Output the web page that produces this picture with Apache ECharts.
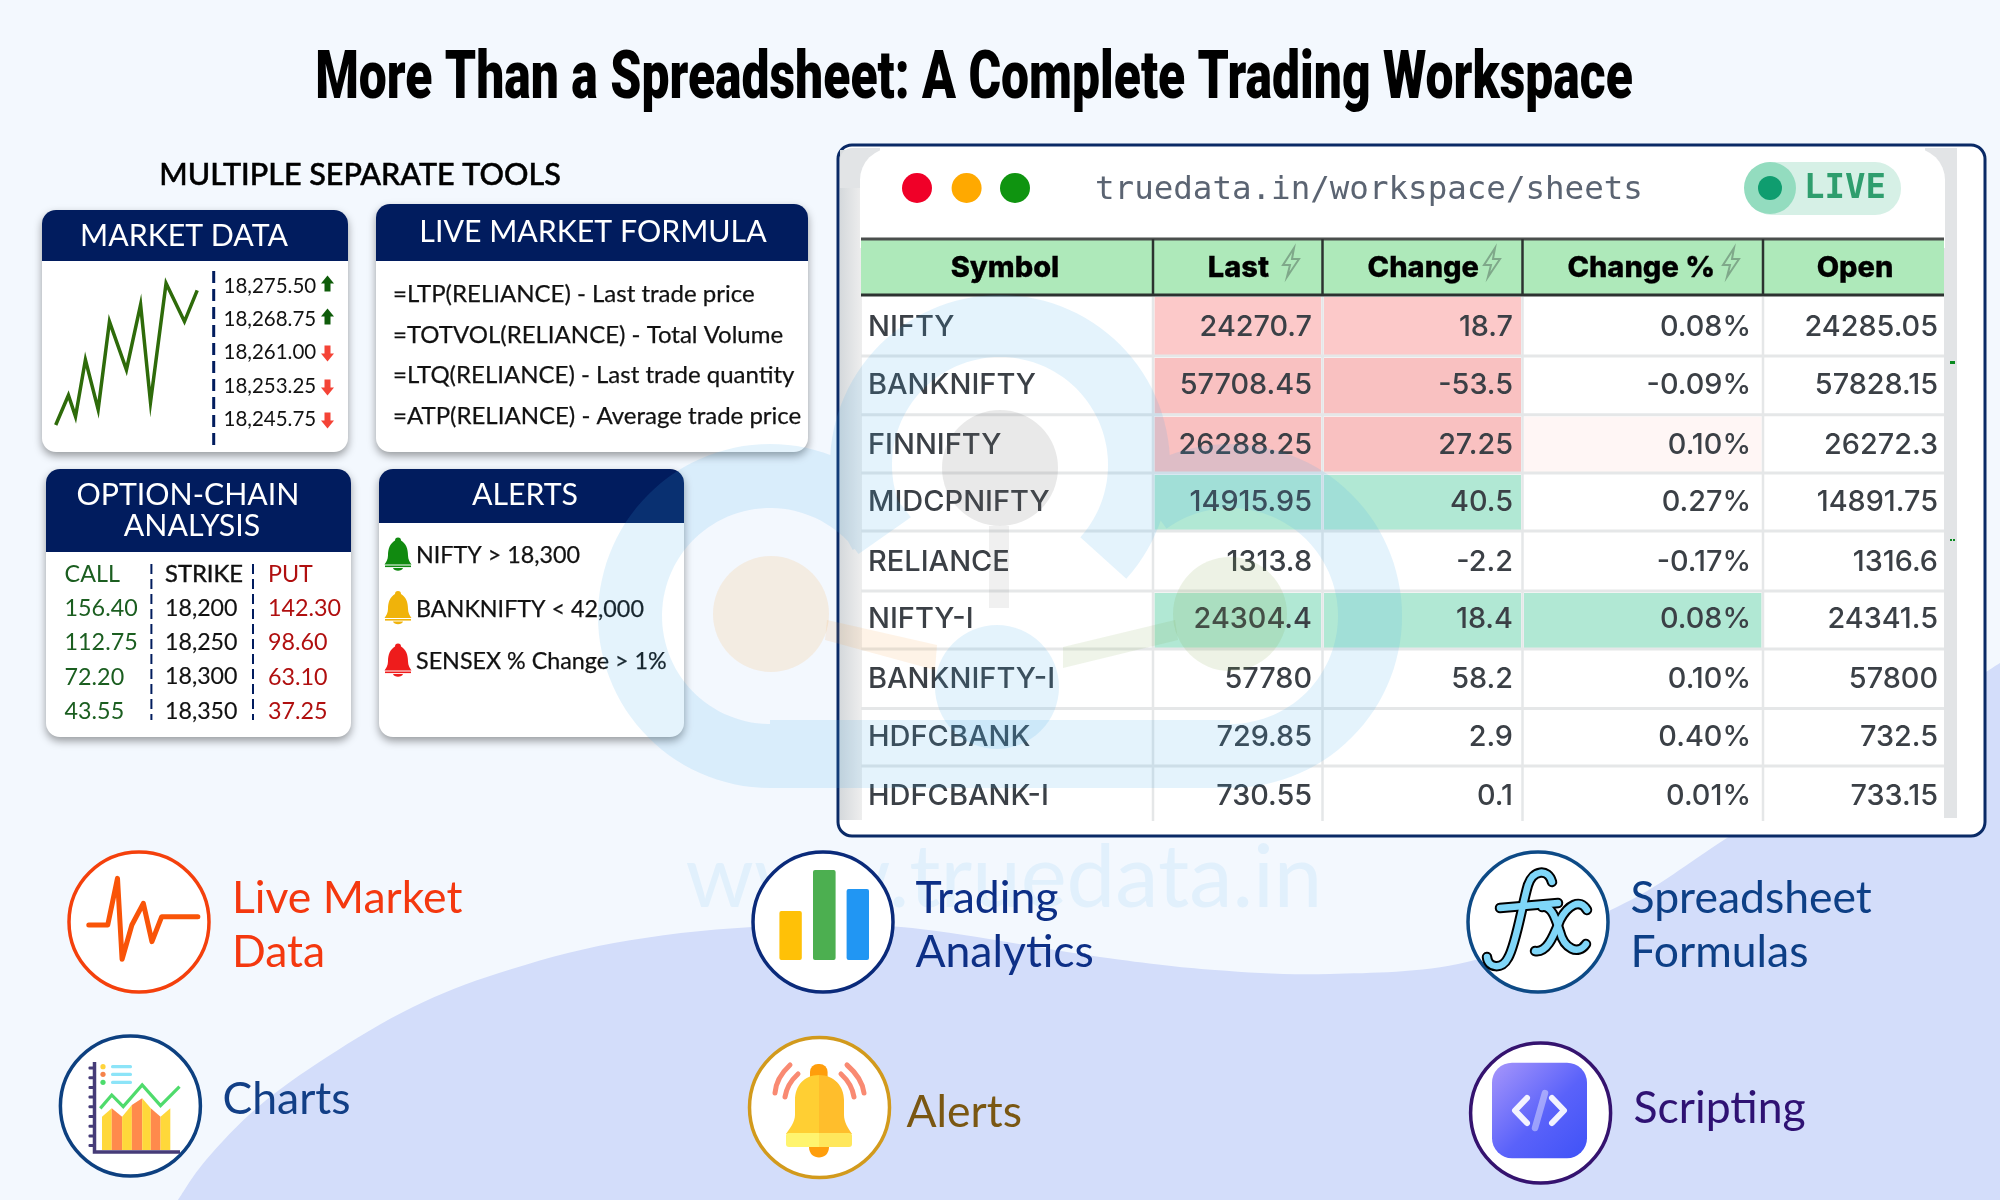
<!DOCTYPE html>
<html><head><meta charset="utf-8">
<style>html,body{margin:0;padding:0;background:#f3f8fe}#c{width:2000px;height:1200px}</style>
<script src="https://cdn.jsdelivr.net/npm/echarts@6/dist/echarts.min.js"></script>
</head><body><div id="c"></div>
<script>
// ---------- DATA ----------
const chartTitle = "More Than a Spreadsheet: A Complete Trading Workspace";
const toolsHeading = "MULTIPLE SEPARATE TOOLS";
const sparkX = [0, 9, 14, 21, 30, 38, 50, 60, 67, 78, 91, 100];
const sparkY = [0, 21, 6, 46, 11, 73, 39, 85, 16, 100, 73, 95];
const priceLabels = ["18,275.50", "18,268.75", "18,261.00", "18,253.25", "18,245.75"];
const priceDirections = [1, 1, -1, -1, -1];
const formulas = ["=LTP(RELIANCE) - Last trade price", "=TOTVOL(RELIANCE) - Total Volume", "=LTQ(RELIANCE) - Last trade quantity", "=ATP(RELIANCE) - Average trade price"];
const chainCall = ["CALL", "156.40", "112.75", "72.20", "43.55"];
const chainStrike = ["STRIKE", "18,200", "18,250", "18,300", "18,350"];
const chainPut = ["PUT", "142.30", "98.60", "63.10", "37.25"];
const alertTexts = ["NIFTY > 18,300", "BANKNIFTY < 42,000", "SENSEX % Change > 1%"];
const tableHeaders = ["Symbol", "Last", "Change", "Change %", "Open"];
const symbols = ["NIFTY", "BANKNIFTY", "FINNIFTY", "MIDCPNIFTY", "RELIANCE", "NIFTY-I", "BANKNIFTY-I", "HDFCBANK", "HDFCBANK-I"];
const lastValues = ["24270.7", "57708.45", "26288.25", "14915.95", "1313.8", "24304.4", "57780", "729.85", "730.55"];
const changeValues = ["18.7", "-53.5", "27.25", "40.5", "-2.2", "18.4", "58.2", "2.9", "0.1"];
const changePctValues = ["0.08%", "-0.09%", "0.10%", "0.27%", "-0.17%", "0.08%", "0.10%", "0.40%", "0.01%"];
const openValues = ["24285.05", "57828.15", "26272.3", "14891.75", "1316.6", "24341.5", "57800", "732.5", "733.15"];
const lastHeat = ["#fcc9c9", "#f9c1c1", "#f9c1c1", "#b1e8d4", "", "#b1e8d4", "", "", ""];
const changeHeat = ["#fcc9c9", "#f9c1c1", "#f9c1c1", "#b1e8d4", "", "#b1e8d4", "", "", ""];
const pctHeat = ["", "", "#fff6f5", "", "", "#b1e8d4", "", "", ""];
const urlText = "truedata.in/workspace/sheets";
const liveText = "LIVE";
const watermarkText = "www.truedata.in";
const featureLabels = [["Live Market", "Data"], ["Trading", "Analytics"], ["Spreadsheet", "Formulas"], ["Charts"], ["Alerts"], ["Scripting"]];

// ---------- LAYOUT ----------
const NAVY = "#011c5e", LATO = "Lato", INTER = "Inter";
const g = [];
const rect = (x, y, w, h, fill, r, extra) => g.push(Object.assign({type:"rect", silent:true, shape:{x, y, width:w, height:h, r:r||0}, style:{fill}}, extra||{}));
const text = (x, y, t, font, size, fill, o) => { o=o||{}; const yOff=font===LATO?2:0; const el={type:"text", silent:true, x, y:y+yOff, style:{text:t, font:(o.italic?"italic ":"")+(o.weight||400)+" "+size+"px '"+font+"'", fill, align:o.align||"left", verticalAlign:"middle"}};
  if(o.stroke){el.style.stroke=o.stroke; el.style.lineWidth=o.lw||1;} if(o.scaleX){el.scaleX=o.scaleX;} g.push(el); };
const line = (pts, stroke, w, o) => { o=o||{}; g.push({type:"polyline", silent:true, shape:{points:pts}, style:{stroke, lineWidth:w, fill:null, lineDash:o.dash||null, lineCap:o.cap||"butt", lineJoin:o.join||"miter"}}); };
const poly = (pts, fill) => g.push({type:"polygon", silent:true, shape:{points:pts}, style:{fill}});
const circle = (cx, cy, r, fill, stroke, w) => g.push({type:"circle", silent:true, shape:{cx, cy, r}, style:{fill, stroke:stroke||null, lineWidth:w||0}});

// Smooth curve through points for the background wave
function smooth(pts){ let d="M"+pts[0][0]+" "+pts[0][1]; for(let i=0;i<pts.length-1;i++){const p0=pts[i-1]||pts[i],p1=pts[i],p2=pts[i+1],p3=pts[i+2]||p2;
  d+=" C"+(p1[0]+(p2[0]-p0[0])/6)+" "+(p1[1]+(p2[1]-p0[1])/6)+" "+(p2[0]-(p3[0]-p1[0])/6)+" "+(p2[1]-(p3[1]-p1[1])/6)+" "+p2[0]+" "+p2[1];} return d; }
let shapeCount=0;
const absPath = (d, style) => { const name="svgShape"+(++shapeCount); echarts.graphic.registerShape(name, echarts.graphic.extendPath(d,{})); g.push({type:name, silent:true, style}); };

// Background wave
const wave=[[178,1200],[206,1160],[258,1107],[327,1057],[413,1007],[499,973],[614,943],[752,927],[901,927],[1100,957],[1215,970],[1330,974],[1467,962],[1617,907],[1727,838],[1860,752],[2000,663]];
absPath(smooth(wave)+" L2000 1200 Z",{fill:"#d3ddfa"});
text(1004,877,watermarkText,LATO,87,"#e1f0fc",{align:"center"});

// Title
text(974,81,chartTitle,"Roboto",66,"#000",{weight:900,align:"center",scaleX:0.755});
text(360,173,toolsHeading,LATO,30.5,"#000",{weight:500,align:"center",stroke:"#000",lw:0.5});

// Cards
function card(x,y,w,h,hb){
  rect(x,y,w,h,"#fff",14,{style:{fill:"#fff",shadowBlur:8,shadowColor:"rgba(0,0,0,.38)",shadowOffsetY:4}});
  rect(x,y,w,hb-y,NAVY,[14,14,0,0]);
}
card(42,210,306,242,261);
card(376,204,432,248,261);
card(46,469,305,268,552);
card(379,469,305,268,523);
text(184,234,"MARKET DATA",LATO,30.3,"#fff",{align:"center"});
text(593,230,"LIVE MARKET FORMULA",LATO,30.3,"#fff",{align:"center"});
text(188,493,"OPTION-CHAIN",LATO,30.3,"#fff",{align:"center"});
text(192,524.5,"ANALYSIS",LATO,30.3,"#fff",{align:"center"});
text(525,493,"ALERTS",LATO,30.3,"#fff",{align:"center"});

// Market data panel
line([[213.7,271],[213.7,445]],NAVY,3,{dash:[12,6]});
const priceRowY=[284.5,317.5,350.5,384.5,417.5];
priceLabels.forEach((t,i)=>{
  const y=priceRowY[i]; text(223.5,y,t,LATO,20.5,"#111");
  const cx=327.5,c=priceDirections[i]>0?"#0f5c0a":"#f44336",s=priceDirections[i];
  const by=y+1-s*1;
  poly([[cx,by-s*9],[cx+6.5,by-s*1],[cx+3,by-s*1],[cx+3,by+s*7],[cx-3,by+s*7],[cx-3,by-s*1],[cx-6.5,by-s*1]],c);
});

// Formulas
[292.5,333,373.5,414.5].forEach((y,i)=>text(393,y,formulas[i],LATO,24,"#111",{stroke:"#111",lw:0.25}));

// Option chain
const chainRowY=[572.5,606.5,640.5,675,709.5];
chainRowY.forEach((y,i)=>{
  text(64.6,y,chainCall[i],LATO,23.3,"#1b5e20");
  text(165,y,chainStrike[i],LATO,i==0?23.8:23.2,"#111",{stroke:"#111",lw:i==0?0.4:0.15});
  text(268,y,chainPut[i],LATO,23.3,"#b00f0f");
});
line([[151.4,564],[151.4,720]],NAVY,2,{dash:[10,5]});
line([[253,564],[253,720]],NAVY,2,{dash:[10,5]});

// Alerts
function bell(cx,cy,c){
  absPath("M"+cx+" "+(cy-16)+" C"+(cx+2)+" "+(cy-16)+" "+(cx+3)+" "+(cy-15)+" "+(cx+3)+" "+(cy-13)+" C"+(cx+8)+" "+(cy-10)+" "+(cx+10)+" "+(cy-5)+" "+(cx+10)+" "+(cy+2)+" C"+(cx+10)+" "+(cy+6)+" "+(cx+12)+" "+(cy+9)+" "+(cx+13.5)+" "+(cy+11)+" L"+(cx-13.5)+" "+(cy+11)+" C"+(cx-12)+" "+(cy+9)+" "+(cx-10)+" "+(cy+6)+" "+(cx-10)+" "+(cy+2)+" C"+(cx-10)+" "+(cy-5)+" "+(cx-8)+" "+(cy-10)+" "+(cx-3)+" "+(cy-13)+" C"+(cx-3)+" "+(cy-15)+" "+(cx-2)+" "+(cy-16)+" "+cx+" "+(cy-16)+" Z",{fill:c});
  rect(cx-13,cy+12,26,1.6,c);
  absPath("M"+(cx-5)+" "+(cy+14.5)+" L"+(cx+5)+" "+(cy+14.5)+" C"+(cx+4)+" "+(cy+18)+" "+(cx-4)+" "+(cy+18)+" "+(cx-5)+" "+(cy+14.5)+" Z",{fill:c});
}
const alertY=[553.5,607,659.5], bellColors=["#118a10","#f0b30a","#ee1c1c"];
alertTexts.forEach((t,i)=>{ bell(398,alertY[i],bellColors[i]); text(416,alertY[i],t,LATO,23.3,"#111",{stroke:"#111",lw:0.25}); });

// Workspace window
rect(838,145,1147,691,"#fff",14,{style:{fill:"#fff",stroke:"#0a2a66",lineWidth:3}});
rect(840,150,22,670,{type:"linear",x:0,y:0,x2:1,y2:0,colorStops:[{offset:0,color:"#d5d9dc"},{offset:1,color:"#eeeeee"}]});
rect(840,148,40,40,"#e2e4e6",[12,0,0,0]);
rect(1944,148,13,670,"#e2e4e6");
rect(1925,148,32,40,"#e2e4e6");
rect(860,148,1085,100,"#fff",[32,32,0,0]);
[[917,"#f00028"],[966.6,"#ffa900"],[1015,"#0f9410"]].forEach(d=>circle(d[0],188,15,d[1]));
text(1095,190.5,urlText,"DejaVu Sans Mono",32.5,"#5b6472");
rect(1746,162,155,53,"#d6f0e6",26);
circle(1770,188,26,"#93dcbf"); circle(1770,188,12,"#0f9d6f");
text(1804,189,liveText,"DejaVu Sans Mono",34,"#2f9e6e",{weight:700});
rect(1950,361,5,3,"#0a8a20"); rect(1950,539,2,2,"#0a8a20"); rect(1953,539,2,2,"#0a8a20");

// Table
const colX=[861,1153,1322.5,1522.5,1763,1944];
const rowY=[295,356,414.7,473,531,591,649,708.5,766,821];
const rowTextY=[327,385.4,445,502.5,562,619.6,679,737,796.4];
const rightEdges=[null,1312,1513,1751,1938];
rect(861,239,1083,56,"#aee9ba");
line([[861,239],[1944,239]],"#4b4f4d",3);
line([[861,295],[1944,295]],"#2c3230",3);
[1153,1322.5,1522.5,1763].forEach(x=>line([[x,239],[x,295]],"#2c3230",2.5));
const hdr={weight:800,stroke:"#000",lw:0.3};
text(1005,268,tableHeaders[0],INTER,29,"#000",Object.assign({align:"center"},hdr));
text(1269,268,tableHeaders[1],INTER,29,"#000",Object.assign({align:"right"},hdr));
text(1479,268,tableHeaders[2],INTER,29,"#000",Object.assign({align:"right"},hdr));
text(1715,268,tableHeaders[3],INTER,29,"#000",Object.assign({align:"right"},hdr));
text(1855,268,tableHeaders[4],INTER,29,"#000",Object.assign({align:"center"},hdr));
[1291,1492,1731].forEach(x=>absPath("M"+(x+3)+" 248 L"+(x-8)+" 265 L"+(x-1)+" 265 L"+(x-4)+" 277 L"+(x+8)+" 259 L"+(x+1)+" 259 Z",{fill:null,stroke:"#7fa88a",lineWidth:2}));
symbols.forEach((s,i)=>{
  const y0=rowY[i]+2,h=rowY[i+1]-rowY[i]-3;
  [lastHeat,changeHeat,pctHeat].forEach((arr,k)=>{ if(arr[i]) rect(colX[k+1]+1.5,y0,colX[k+2]-colX[k+1]-3,h,arr[i]); });
});
rowY.slice(1,-1).forEach(y=>line([[861,y],[1944,y]],"#e5e7e8",3));
colX.slice(1,-1).forEach(x=>line([[x,297],[x,821]],"#e5e7e8",2.5));
symbols.forEach((s,i)=>{
  const y=rowTextY[i],c="#3b4046",w=500;
  text(868,y,s,INTER,29,c,{weight:w});
  text(rightEdges[1],y,lastValues[i],INTER,28.8,c,{align:"right",weight:w});
  text(rightEdges[2],y,changeValues[i],INTER,28.8,c,{align:"right",weight:w});
  text(rightEdges[3],y,changePctValues[i],INTER,28.8,c,{align:"right",weight:w});
  text(rightEdges[4],y,openValues[i],INTER,28.8,c,{align:"right",weight:w});
});

// Logo watermark (one compound path so overlaps stay flat)
function sector(cx,cy,R,r,a0,a1){ let d=""; const P=(rad,a)=>(cx+rad*Math.cos(a*Math.PI/180)).toFixed(1)+" "+(cy+rad*Math.sin(a*Math.PI/180)).toFixed(1);
  d+="M"+P(R,a0); for(let a=a0+3;a<a1;a+=3) d+=" L"+P(R,a); d+=" L"+P(R,a1)+" L"+P(r,a1); for(let a=a1-3;a>a0;a-=3) d+=" L"+P(r,a); d+=" L"+P(r,a0)+" Z"; return d; }
const logoD=[sector(1000,465,170,108,150,402),sector(770,616,172,108,90,325),sector(1230,616,172,108,234,450),"M770 720 L1230 720 L1230 788 L770 788 Z"].join(" ");
absPath(logoD,{fill:"rgba(63,169,232,0.14)"});
circle(1000,468,58,"rgba(110,110,110,0.15)");
rect(989,526,20,82,"rgba(110,110,110,0.10)");
circle(997,687,62,"rgba(63,169,232,0.14)");
circle(771,614,58,"rgba(245,160,60,0.14)");
poly([[827,620],[937,645],[935,670],[825,640]],"rgba(245,160,60,0.12)");
circle(1230,614,57,"rgba(125,165,70,0.14)");
poly([[1175,620],[1063,647],[1063,668],[1178,640]],"rgba(125,165,70,0.12)");

// Feature labels and icons
const featureText=(x,y,lines,c)=>lines.forEach((t,i)=>text(x,y+i*53.7,t,LATO,44.5,c));
function ring(cx,cy,c){ circle(cx,cy,70,"#fff",c,3.5); }

ring(139,922,"#f4400c");
const zx=X=>40+X/1.742, zy=Y=>840+Y/3;
line([[85,255],[118,255],[135,115],[143,358],[160,255],[180,190],[195,305],[212,230],[275,230]].map(p=>[zx(p[0]),zy(p[1])]),"#f95408",5,{join:"round",cap:"round"});
featureText(232,897,featureLabels[0],"#f4380f");

ring(823,922,"#0a2a7a");
rect(779.4,911,22.4,49,"#ffc107",2); rect(813,870,22.6,90,"#4caf50",2); rect(846.6,889,22.4,71,"#2196f3",2);
featureText(915.5,897,featureLabels[1],"#0d2f86");

ring(1538,922,"#0d4a86");
const fxStrokes=["M1552 882 C1548 868 1533 870 1528 885 C1522 905 1516 945 1508 958 C1502 970 1488 968 1487 957",
 "M1500 908 L1558 903",
 "M1542 907 C1552 905 1556 920 1560 932 C1564 948 1578 956 1586 944",
 "M1587 910 C1580 898 1568 905 1560 920 C1553 937 1547 953 1535 951"];
fxStrokes.forEach(d=>absPath(d,{fill:null,stroke:"#000",lineWidth:10.5,lineCap:"round",lineJoin:"round"}));
fxStrokes.forEach(d=>absPath(d,{fill:null,stroke:"#7fd6f8",lineWidth:6.5,lineCap:"round",lineJoin:"round"}));
featureText(1630.5,897,featureLabels[2],"#0d3f86");

ring(130.4,1106,"#0d4080");
line([[94.5,1062],[94.5,1152],[180,1152]],"#463c78",3.5);
for(let y=1068;y<1150;y+=9.7) rect(88.5,y-1.5,6,3,"#463c78",1);
[[1066.7,"#ffd43b"],[1074.3,"#f5834a"],[1082.3,"#4cdc6c"]].forEach(d=>{circle(103,d[0],2.6,d[1]); rect(111,d[0]-1.6,21,3.2,"#8ce4f8",1.5);});
const colBars=[[108,125,830,805,"#ffd83a"],[125,143,805,830,"#ff8a4c"],[143,160,830,795,"#ffd83a"],[160,178,795,775,"#ff8a4c"],[178,193,775,805,"#ffd83a"],[193,210,805,830,"#ff8a4c"],[210,227,830,805,"#ffd83a"]];
colBars.forEach(b=>poly([[zx(b[0]),zy(930)],[zx(b[0]),zy(b[2])],[zx(b[1]),zy(b[3])],[zx(b[1]),zy(930)]],b[4]));
line([[105,805],[125,765],[145,800],[178,735],[210,797],[243,740]].map(p=>[zx(p[0]),zy(p[1])]),"#4fdb6c",3.2);
featureText(222.5,1098,featureLabels[3],"#123f86");

ring(819.5,1107.5,"#d29a1c");
rect(810,1064,17.6,20,"#ff9e0c",8);
absPath("M819 1075 C804 1075 795 1086 795 1100 L795 1115 C795 1122 790 1128 786 1134 L819 1134 Z",{fill:"#ffcf33"});
absPath("M819 1075 C834 1075 844 1086 844 1100 L844 1115 C844 1122 848 1128 852 1134 L819 1134 Z",{fill:"#ffbe2c"});
rect(786,1133,33,14,"#fff46e",[3,0,0,3]); rect(819,1133,33,14,"#ffe75c",[0,3,3,0]);
absPath("M809 1147 L829 1147 C829 1161 809 1161 809 1147 Z",{fill:"#ff9e0c"});
["M790 1065 Q776 1078 775 1093","M798 1074 Q787 1084 785 1097","M847 1065 Q862 1078 864 1093","M841 1074 Q852 1084 854 1097"].forEach(d=>absPath(d,{fill:null,stroke:"#f98a72",lineWidth:5,lineCap:"round"}));
featureText(906.5,1111,featureLabels[4],"#7a5712");

ring(1540.6,1113,"#35136f");
rect(1492,1062.7,95,95.5,{type:"linear",x:0,y:0,x2:1,y2:1,colorStops:[{offset:0,color:"#a796fb"},{offset:.55,color:"#5a62fa"},{offset:1,color:"#3f52f7"}]},20);
line([[1545,1093],[1535,1128]],"rgba(255,255,255,.4)",6.5,{cap:"round"});
line([[1527,1098],[1515,1110.5],[1527,1123]],"rgba(255,255,255,.92)",6,{cap:"round",join:"round"});
line([[1552,1098],[1564,1110.5],[1552,1123]],"rgba(255,255,255,.92)",6,{cap:"round",join:"round"});
featureText(1633.5,1107,featureLabels[5],"#2f1273");

// ---------- CHART ----------
const chart=echarts.init(document.getElementById("c"),null,{renderer:"canvas",width:2000,height:1200});
chart.setOption({
  animation:false,
  backgroundColor:"#f3f8fe",
  grid:{left:55.7,top:283.3,width:141.5,height:141.7,show:false},
  xAxis:{type:"value",min:0,max:100,show:false},
  yAxis:{type:"value",min:0,max:100,show:false},
  series:[{type:"line",data:sparkX.map((x,i)=>[x,sparkY[i]]),showSymbol:false,symbol:"none",clip:false,lineStyle:{color:"#2e6b0a",width:3.5,join:"miter"},silent:true,z:5}],
  graphic:{elements:g}
});
</script></body></html>
